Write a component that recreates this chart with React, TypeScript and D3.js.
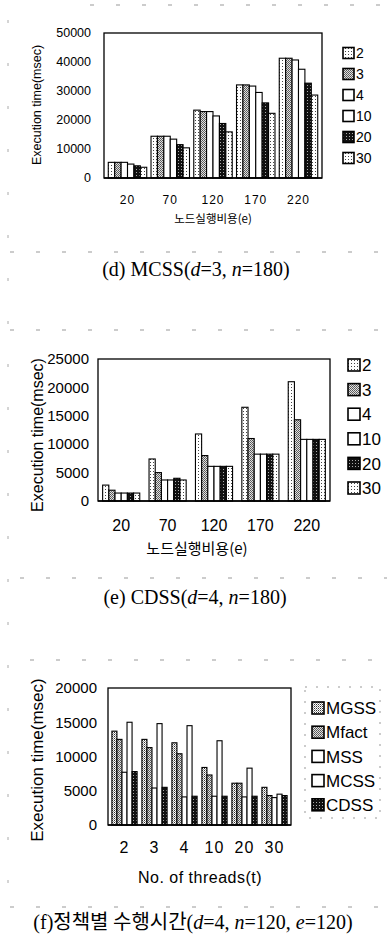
import React from 'react';
import * as d3 from 'd3';

const costCategories = ['20', '70', '120', '170', '220'];
const threadLabels = ['2', '3', '4', '10', '20', '30'];
const policyLabels = ['MGSS', 'Mfact', 'MSS', 'MCSS', 'CDSS'];

// (d) MCSS: one row per thread count (2,3,4,10,20,30), columns = node cost
const mcssTimes = [
  [5400, 14400, 23400, 32100, 41300],
  [5400, 14400, 22900, 32100, 41300],
  [5400, 14400, 22900, 31700, 40700],
  [4800, 13400, 21400, 29500, 37500],
  [4200, 11500, 18800, 25900, 32700],
  [3700, 10400, 15900, 22300, 28600],
];

// (e) CDSS
const cdssTimes = [
  [2800, 7400, 11800, 16500, 21000],
  [1900, 5000, 8000, 11000, 14300],
  [1400, 3700, 6100, 8250, 10850],
  [1400, 3700, 6100, 8250, 10850],
  [1400, 4000, 6100, 8250, 10850],
  [1400, 3700, 6100, 8250, 10850],
];

// (f) one row per policy, columns = threads
const policyTimes = [
  [13700, 12500, 12000, 8400, 6100, 5500],
  [12500, 11300, 10400, 7300, 6100, 4300],
  [7700, 5400, 4100, 4200, 4100, 4000],
  [15000, 14800, 14500, 12300, 8300, 4500],
  [7800, 5500, 4200, 4200, 4200, 4300],
];

const mcssTicks = [0, 10000, 20000, 30000, 40000, 50000];
const cdssTicks = [0, 5000, 10000, 15000, 20000, 25000];
const policyTicks = [0, 5000, 10000, 15000, 20000];

const SANS = 'Liberation Sans, Arial, sans-serif';
const KR = '"Noto Sans CJK KR", sans-serif';
const SERIF = 'Liberation Serif, "Times New Roman", serif';

const threadFills = ['url(#pLight)', 'url(#pGray)', '#fff', '#fff', 'url(#pDark)', 'url(#pLight)'];
const policyFills = ['url(#pMid)', 'url(#pGray)', '#fff', '#fff', 'url(#pDark)'];

function Panel(props: any) {
  const { cats, series, values, ticks, fills, box, pad, font, legend, yLabel, xLabel } = props;
  const x0 = d3.scaleBand().domain(cats).range([box.left, box.right])
    .paddingInner(pad[0]).paddingOuter(pad[1]);
  const x1 = d3.scaleBand().domain(series).range([0, x0.bandwidth()]);
  const y = d3.scaleLinear().domain([0, ticks[ticks.length - 1]]).range([box.bottom, box.top]);

  return (
    <g>
      {values.map((row: number[], si: number) =>
        row.map((v, ci) => (
          <rect key={si + '-' + ci}
            x={x0(cats[ci])! + x1(series[si])!}
            y={y(v)}
            width={x1.bandwidth()}
            height={y(0) - y(v)}
            fill={fills[si]} stroke="#000" strokeWidth={1.1} />
        )))}
      <rect x={box.left} y={box.top} width={box.right - box.left} height={box.bottom - box.top}
        fill="none" stroke="#000" strokeWidth={1.3} />
      <line x1={box.left} x2={box.right} y1={y(0)} y2={y(0)} stroke="#000" strokeWidth={1.6} />
      {ticks.map((t: number) => (
        <text key={t} x={box.tickX} y={y(t)} dy="0.35em" textAnchor="end"
          fontFamily={SANS} fontSize={font.tick}>{t}</text>
      ))}
      {cats.map((c: string) => (
        <text key={c} x={x0(c)! + x0.bandwidth() / 2} y={box.xTickY} textAnchor="middle"
          fontFamily={SANS} fontSize={font.xTick} letterSpacing={font.xSpacing}>{c}</text>
      ))}
      <text x={xLabel.x} y={xLabel.y} textAnchor="middle" fontFamily={xLabel.family}
        fontSize={xLabel.size} letterSpacing={xLabel.spacing || 0}>{xLabel.text}</text>
      <text transform={`translate(${yLabel.x},${yLabel.y}) rotate(-90)`} textAnchor="middle"
        dy="0.35em" fontFamily={SANS} fontSize={yLabel.size}>Execution time(msec)</text>
      {legend.frame && (
        <rect x={legend.frame[0]} y={legend.frame[1]} width={legend.frame[2]} height={legend.frame[3]}
          fill="none" stroke="#999" strokeWidth={1} strokeDasharray="2 9" />
      )}
      {series.map((s: string, i: number) => {
        const cy = legend.y + i * legend.gap;
        return (
          <g key={s}>
            <rect x={legend.x} y={cy - legend.box / 2} width={legend.box} height={legend.box}
              fill={fills[i]} stroke="#000" strokeWidth={1.6} />
            <text x={legend.x + legend.box + 2} y={cy} dy="0.36em" fontFamily={SANS}
              fontSize={legend.size}>{s}</text>
          </g>
        );
      })}
    </g>
  );
}

function Caption({ x, y, parts }: any) {
  return (
    <text x={x} y={y} textAnchor="middle" fontFamily={SERIF} fontSize={20}>
      {parts.map((p: any, i: number) => (
        <tspan key={i} fontStyle={p.i ? 'italic' : 'normal'}
          fontFamily={p.kr ? '"Noto Sans CJK KR", serif' : SERIF}>{p.t}</tspan>
      ))}
    </text>
  );
}

export default function App() {
  // faint scan marks of the printed page
  const scan = [
    [90, 387, 5], [10, 387, 252], [10, 387, 330], [20, 387, 578], [30, 387, 660], [10, 387, 907],
  ];
  return (
    <svg width={387} height={942} style={{ position: 'absolute', left: 0, top: 0, background: '#fff' }}>
      <defs>
        <pattern id="pLight" width={3} height={3} patternUnits="userSpaceOnUse">
          <rect width={3} height={3} fill="#fff" />
          <rect width={1} height={1} fill="#444" />
        </pattern>
        <pattern id="pMid" width={2} height={2} patternUnits="userSpaceOnUse">
          <rect width={2} height={2} fill="#fff" />
          <rect width={1} height={1} fill="#333" />
          <rect x={1} y={1} width={1} height={1} fill="#999" />
        </pattern>
        <pattern id="pGray" width={2} height={2} patternUnits="userSpaceOnUse">
          <rect width={2} height={2} fill="#e0e0e0" />
          <rect width={1} height={1} fill="#555" />
          <rect x={1} y={1} width={1} height={1} fill="#666" />
        </pattern>
        <pattern id="pDark" width={3} height={3} patternUnits="userSpaceOnUse">
          <rect width={3} height={3} fill="#111" />
          <rect x={1} y={1} width={1} height={1} fill="#aaa" />
        </pattern>
      </defs>

      {scan.map(([a, b, yy], i) => (
        <line key={i} x1={a} x2={b} y1={yy} y2={yy} stroke="#999" strokeWidth={1} strokeDasharray="4 22" />
      ))}
      <line x1={8} x2={8} y1={20} y2={900} stroke="#aaa" strokeWidth={1} strokeDasharray="3 40" />

      <Panel cats={costCategories} series={threadLabels} values={mcssTimes} ticks={mcssTicks}
        fills={threadFills}
        box={{ left: 104, right: 322, top: 33, bottom: 178, tickX: 91, xTickY: 204 }}
        pad={[0.1, 0.1]}
        font={{ tick: 12.5, xTick: 12, xSpacing: 1 }}
        xLabel={{ text: '노드실행비용(e)', x: 213, y: 223, size: 11.5, family: KR }}
        yLabel={{ x: 37, y: 105, size: 12.5 }}
        legend={{ x: 343, y: 53, gap: 21, box: 11, size: 14 }} />

      <Caption x={196} y={276} parts={[
        { t: '(d) MCSS(' }, { t: 'd', i: true }, { t: '=3, ' }, { t: 'n', i: true }, { t: '=180)' },
      ]} />

      <Panel cats={costCategories} series={threadLabels} values={cdssTimes} ticks={cdssTicks}
        fills={threadFills}
        box={{ left: 98, right: 330, top: 359, bottom: 501, tickX: 89, xTickY: 531 }}
        pad={[0.2, 0.1]}
        font={{ tick: 15, xTick: 16, xSpacing: 0 }}
        xLabel={{ text: '노드실행비용(e)', x: 197, y: 554, size: 15, family: KR }}
        yLabel={{ x: 37, y: 435, size: 16 }}
        legend={{ x: 348, y: 365, gap: 24.6, box: 12, size: 17 }} />

      <Caption x={195} y={604} parts={[
        { t: '(e) CDSS(' }, { t: 'd', i: true }, { t: '=4, ' }, { t: 'n', i: true }, { t: '=180)' },
      ]} />

      <Panel cats={threadLabels} series={policyLabels} values={policyTimes} ticks={policyTicks}
        fills={policyFills}
        box={{ left: 108, right: 291, top: 688, bottom: 825, tickX: 97, xTickY: 853 }}
        pad={[0.16, 0.13]}
        font={{ tick: 15, xTick: 16, xSpacing: 1 }}
        xLabel={{ text: 'No. of threads(t)', x: 200, y: 883, size: 16, family: SANS, spacing: 0.5 }}
        yLabel={{ x: 37, y: 760, size: 17 }}
        legend={{ x: 312, y: 708, gap: 24.2, box: 12, size: 17, frame: [305, 687, 75, 131] }} />

      <Caption x={193} y={929} parts={[
        { t: '(f)' }, { t: '정책별 수행시간', kr: true }, { t: '(' }, { t: 'd', i: true }, { t: '=4, ' },
        { t: 'n', i: true }, { t: '=120, ' }, { t: 'e', i: true }, { t: '=120)' },
      ]} />
    </svg>
  );
}
